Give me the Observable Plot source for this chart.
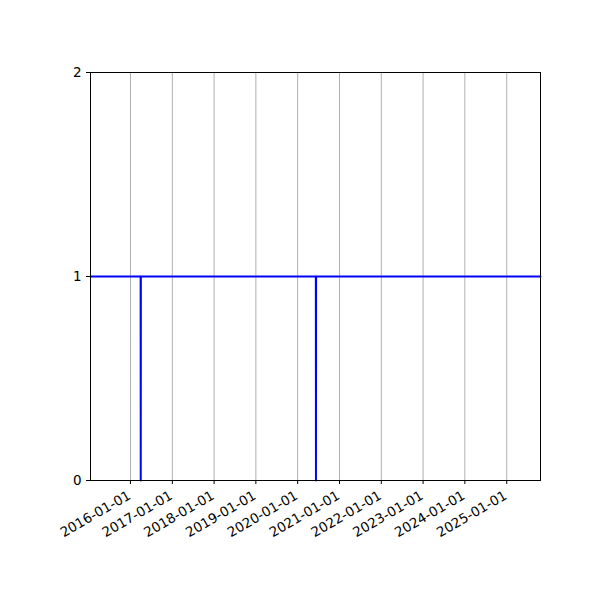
<!DOCTYPE html>
<html>
<head>
<meta charset="utf-8">
<script src="https://cdn.jsdelivr.net/npm/d3@7"></script>
<script src="https://cdn.jsdelivr.net/npm/@observablehq/plot@0.6"></script>
<style>
  html, body { margin: 0; padding: 0; background: #fff; }
  #chart { width: 600px; height: 600px; }
  svg { font-family: "DejaVu Sans", sans-serif; }
</style>
</head>
<body>
<div id="chart"></div>
<script>
// Data
const dates = ["2015-01-17", "2016-03-30", "2016-03-31", "2016-04-01", "2020-06-08", "2020-06-09", "2020-06-10", "2025-10-23"];
const values = [1, 1, 0, 1, 1, 0, 1, 1];
const xTickDates = ["2016-01-01", "2017-01-01", "2018-01-01", "2019-01-01", "2020-01-01", "2021-01-01", "2022-01-01", "2023-01-01", "2024-01-01", "2025-01-01"];
const yTicks = [0, 1, 2];
const xDomain = ["2015-01-17", "2025-10-23"];

const data = dates.map((d, i) => ({date: new Date(d + "T00:00:00Z"), value: values[i]}));
const xt = xTickDates.map(d => new Date(d + "T00:00:00Z"));
const fmt = d3.utcFormat("%Y-%m-%d");

const chart = Plot.plot({
  width: 600,
  height: 600,
  marginLeft: 90,
  marginRight: 60,
  marginTop: 72,
  marginBottom: 120,
  style: {fontFamily: "DejaVu Sans, sans-serif", fontSize: "13px", color: "#000", background: "#fff"},
  x: {type: "utc", domain: xDomain.map(d => new Date(d + "T00:00:00Z"))},
  y: {domain: [0, 2]},
  marks: [
    Plot.gridX(xt, {stroke: "#b0b0b0", strokeOpacity: 1, strokeWidth: 1}),
    Plot.line(data, {x: "date", y: "value", stroke: "#0000ff", strokeWidth: 2, curve: "linear"}),
    Plot.frame({stroke: "#000", strokeWidth: 1}),
    Plot.axisY(yTicks, {tickSize: 4, tickPadding: 5, tickFormat: d => String(d), fontSize: 13.5, label: null, stroke: "#000"}),
    Plot.axisX(xt, {tickSize: 4, tickPadding: 4, tickFormat: fmt, tickRotate: -30, fontSize: 13.5, label: null, stroke: "#000", text: null}),
    Plot.axisX(xt, {tickSize: 0, tickPadding: 8, tickFormat: fmt, tickRotate: -30, fontSize: 13.5, label: null, dy: 6, dx: -1})
  ]
});
document.getElementById("chart").appendChild(chart);
</script>
</body>
</html>
